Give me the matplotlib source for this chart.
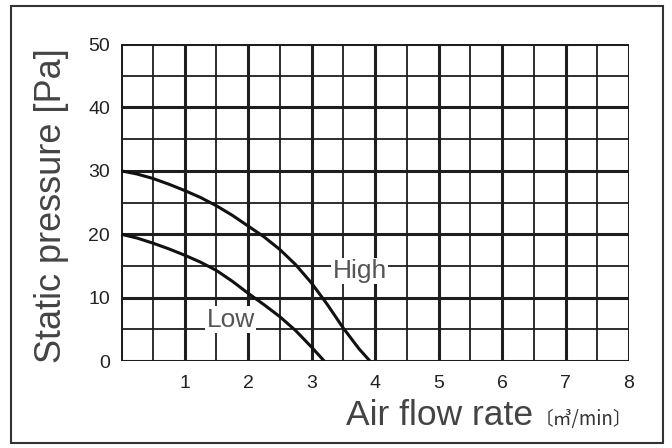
import matplotlib
matplotlib.use("Agg")
import matplotlib.pyplot as plt
from matplotlib.patches import Rectangle

# Data
high_x = [0, 0.25, 0.5, 0.75, 1, 1.25, 1.5, 1.75, 2, 2.25, 2.5, 2.75, 3, 3.25, 3.5, 3.75, 3.92]
high_y = [30, 29.5, 28.8, 27.9, 26.9, 25.8, 24.5, 23.0, 21.3, 19.6, 17.6, 15.2, 12.3, 8.9, 5.2, 1.9, 0]
low_x = [0, 0.25, 0.5, 0.75, 1, 1.25, 1.5, 1.75, 2, 2.25, 2.5, 2.75, 3, 3.2]
low_y = [20, 19.4, 18.6, 17.7, 16.7, 15.6, 14.3, 12.6, 10.7, 8.9, 7.0, 4.8, 2.2, 0]
x_ticks = [1, 2, 3, 4, 5, 6, 7, 8]
y_ticks = [0, 10, 20, 30, 40, 50]
series_labels = ["High", "Low"]
label_pos = [(3.76, 14.2), (1.73, 6.5)]

plt.rcParams['font.family'] = ['Liberation Sans', 'DejaVu Sans']

fig = plt.figure(figsize=(6.72, 4.48), dpi=100)
fig.patch.set_facecolor('white')
ax = fig.add_axes([121/672, 1 - 361/448, 508/672, 317/448])

ax.set_xlim(0, 8)
ax.set_ylim(0, 50)

line_c = '#1e1e1e'
# grid
for i in range(17):
    xv = i * 0.5
    major = (i % 2 == 0)
    ax.axvline(xv, color=line_c, lw=2.2 if major else 1.3, zorder=1)
for j in range(11):
    yv = j * 5
    major = (j % 2 == 0)
    ax.axhline(yv, color=line_c, lw=2.2 if major else 1.3, zorder=1)

for s in ax.spines.values():
    s.set_visible(False)

ax.plot(high_x, high_y, color='#111111', lw=2.2, zorder=3, solid_capstyle='butt',
        solid_joinstyle='round')
ax.plot(low_x, low_y, color='#111111', lw=2.2, zorder=3, solid_capstyle='butt',
        solid_joinstyle='round')

for lab, (lx, ly) in zip(series_labels, label_pos):
    ax.text(lx, ly, lab, fontsize=19, color='#555555', ha='center', va='center',
            zorder=4, bbox=dict(facecolor='white', edgecolor='none', pad=1.0))

ax.set_xticks(x_ticks)
ax.set_yticks(y_ticks)
ax.set_xticklabels([str(v) for v in x_ticks], fontsize=14, color='#222222')
ax.set_yticklabels([str(v) for v in y_ticks], fontsize=14, color='#222222')
ax.tick_params(length=0, pad=8)
ax.tick_params(axis='x', pad=10)

fig.text(52/672, 1 - 206/448, "Static pressure [Pa]", rotation=90, fontsize=26,
         color='#444444', ha='center', va='center')
fig.text(346/672, 23/448, "Air flow rate", fontsize=25.5, color='#444444',
         ha='left', va='baseline')
fig.text(535/672, 23/448, "〔㎥/min〕", fontsize=13.5, color='#333333',
         ha='left', va='baseline', family=['Noto Sans CJK JP', 'DejaVu Sans'])

fig.patches.append(Rectangle((11/672, 5/448), 652/672, 437/448, transform=fig.transFigure,
                             fill=False, edgecolor='#333333', lw=1.5))

fig.savefig("out.png", dpi=100)
